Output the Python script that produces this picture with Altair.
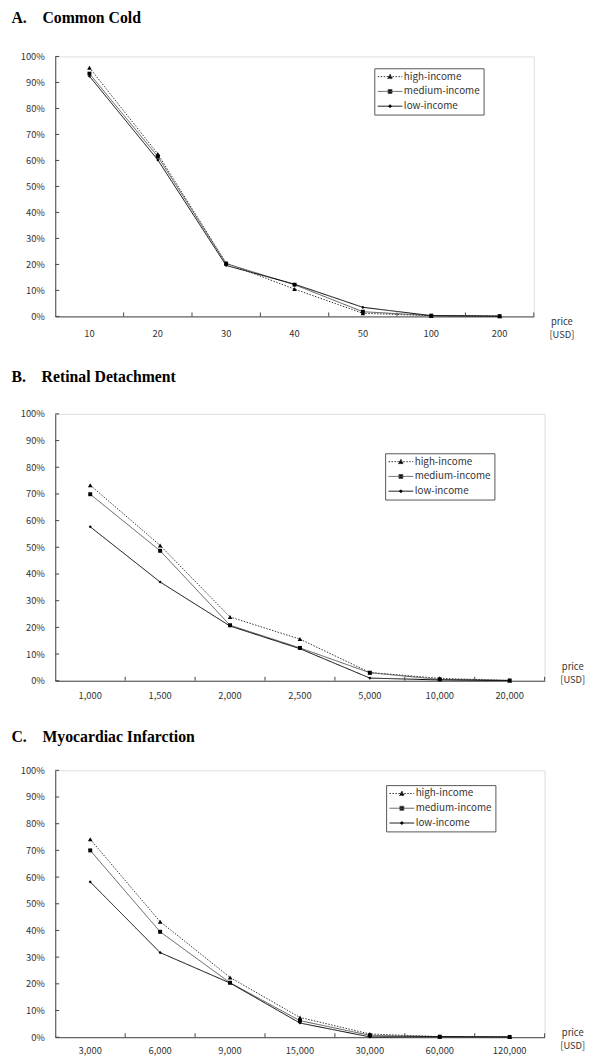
import altair as alt
import pandas as pd

series = ["high-income", "medium-income", "low-income"]

a_prices = ["10", "20", "30", "40", "50", "100", "200"]
a_high = [95.7, 62.5, 20.5, 10.5, 1.2, 0.3, 0.1]
a_med = [93.4, 61.5, 20.3, 12.2, 1.8, 0.3, 0.1]
a_low = [92.4, 60.2, 19.6, 12.4, 3.5, 0.3, 0.1]

b_prices = ["1,000", "1,500", "2,000", "2,500", "5,000", "10,000", "20,000"]
b_high = [73.3, 50.7, 23.9, 15.6, 3.1, 0.9, 0.1]
b_med = [69.9, 48.7, 20.8, 12.3, 3.0, 0.5, 0.1]
b_low = [57.7, 37.0, 20.5, 12.0, 1.0, 0.3, 0.1]

c_prices = ["3,000", "6,000", "9,000", "15,000", "30,000", "60,000", "120,000"]
c_high = [74.2, 43.3, 22.4, 7.4, 1.2, 0.2, 0.1]
c_med = [70.0, 39.5, 20.4, 6.2, 0.7, 0.2, 0.1]
c_low = [58.2, 31.7, 20.3, 5.3, 0.1, 0.2, 0.1]

y_ticks = [0, 10, 20, 30, 40, 50, 60, 70, 80, 90, 100]

FONT = "Noto Sans CJK JP"
TXT = "#333333"
AX = "#444444"

line_colors = ["#333333", "#555555", "#000000"]
line_dash = [[1.5, 1.5], [1, 0], [1, 0]]
line_width = [1, 1, 2]
marker_shapes = ["triangle-up", "square", "diamond"]
marker_sizes = [22, 16, 10]
legend_paths = [
    "M-1,0H4M1.5,-0.5L2,0.4L1,0.4Z",
    "M-1,0H4M1.1,-0.4H1.9V0.4H1.1Z",
    "M-1,0H4M1.5,-0.3L1.8,0L1.5,0.3L1.2,0Z",
]


def panel(title, prices, high, med, low, width, height, lx, ly, toff, ty, lp):
    rows = []
    for s, vals in zip(series, [high, med, low]):
        for i, (p, v) in enumerate(zip(prices, vals)):
            rows.append({"series": s, "price": p, "idx": i, "value": v})
    df = pd.DataFrame(rows)
    base = alt.Chart(df)

    xscale = alt.Scale(type="band", domain=prices, paddingInner=0, paddingOuter=0)
    yscale = alt.Scale(domain=[0, 100])

    xaxis = alt.Axis(
        domainColor=AX, ticks=False, labelPadding=lp, labelFont=FONT,
        labelFontSize=9.5, labelColor=TXT, labelAngle=0, grid=False,
        title=["price", "[USD]"], titleX=width + 28, titleY=ty,
        titleAlign="center", titleFontWeight="normal", titleFont=FONT,
        titleFontSize=9.5, titleColor=TXT, titleLineHeight=13,
    )
    yaxis = alt.Axis(
        values=y_ticks, labelExpr="datum.value + '%'", ticks=False,
        labelPadding=11, labelFont=FONT, labelFontSize=9.5, labelColor=TXT,
        domainColor=AX, grid=False, title=None,
    )

    def X(bp=0.5):
        return alt.X("price:N", scale=xscale, bandPosition=bp, sort=prices, axis=xaxis)

    def Y():
        return alt.Y("value:Q", scale=yscale, axis=yaxis)

    def enc_scales():
        return dict(
            cs=alt.Scale(domain=series, range=line_colors),
            ds=alt.Scale(domain=series, range=line_dash),
            ws=alt.Scale(domain=series, range=line_width),
        )

    s1 = enc_scales()
    lines = base.mark_line().encode(
        x=X(), y=Y(),
        color=alt.Color("series:N", scale=s1["cs"], legend=None),
        strokeDash=alt.StrokeDash("series:N", scale=s1["ds"], legend=None),
        strokeWidth=alt.StrokeWidth("series:N", scale=s1["ws"], legend=None),
        order=alt.Order("idx:Q"),
    )

    pts = []
    for s, shp, sz in zip(series, marker_shapes, marker_sizes):
        pts.append(
            base.transform_filter(alt.datum.series == s)
            .mark_point(shape=shp, filled=True, size=sz, color="black", opacity=1)
            .encode(x=X(), y=Y())
        )

    leg = alt.Legend(
        title=None, orient="none", legendX=lx, legendY=ly,
        strokeColor="#555555", fillColor="white", padding=3,
        labelFont=FONT, labelFontSize=10, labelColor=TXT,
        labelOffset=16, rowPadding=4, symbolSize=100,
    )
    s2 = enc_scales()
    legend_layer = base.transform_filter("datum.idx < 0").mark_point(
        filled=False, fill="black", opacity=1, size=100
    ).encode(
        x=X(), y=Y(),
        color=alt.Color("series:N", scale=s2["cs"], legend=leg),
        shape=alt.Shape("series:N", scale=alt.Scale(domain=series, range=legend_paths), legend=leg),
        strokeDash=alt.StrokeDash("series:N", scale=s2["ds"], legend=leg),
        strokeWidth=alt.StrokeWidth("series:N", scale=s2["ws"], legend=leg),
    )

    xt = alt.Chart(pd.DataFrame({"price": prices})).mark_rule(color=AX).encode(
        x=X(1), y=alt.value(height - 4), y2=alt.value(height),
    )
    yt = alt.Chart(pd.DataFrame({"value": y_ticks})).mark_rule(color=AX).encode(
        y=Y(), x=alt.value(0), x2=alt.value(4),
    )

    return alt.layer(lines, *pts, legend_layer, xt, yt).resolve_scale(
        color="independent", strokeDash="independent", strokeWidth="independent",
        shape="independent",
    ).resolve_legend(
        color="independent", strokeDash="independent", strokeWidth="independent",
        shape="independent",
    ).properties(
        width=width, height=height,
        title=alt.Title(
            title, anchor="start", font="Liberation Serif", fontSize=16,
            fontWeight="bold", color="black", offset=toff, dx=-9,
        ),
    )


nb = "\u00a0" * 4
pa = panel("A." + nb + "Common Cold", a_prices, a_high, a_med, a_low, 486, 264, 324, 12, 26, 0, 12)
pb = panel("B." + nb + "Retinal Detachment", b_prices, b_high, b_med, b_low, 497, 271, 335, 40, 24, -19, 10)
pc = panel("C." + nb + "Myocardiac Infarction", c_prices, c_high, c_med, c_low, 497, 271, 336, 15, 21, -10, 9)

chart = alt.vconcat(
    alt.vconcat(pa, pb, spacing=30), pc, spacing=28
).properties(
    padding={"left": 2, "top": -7, "right": 0, "bottom": 0}
).configure_view(strokeWidth=0).configure(background="white")

chart.save("out.html", embed_options={"renderer": "svg", "actions": False})
